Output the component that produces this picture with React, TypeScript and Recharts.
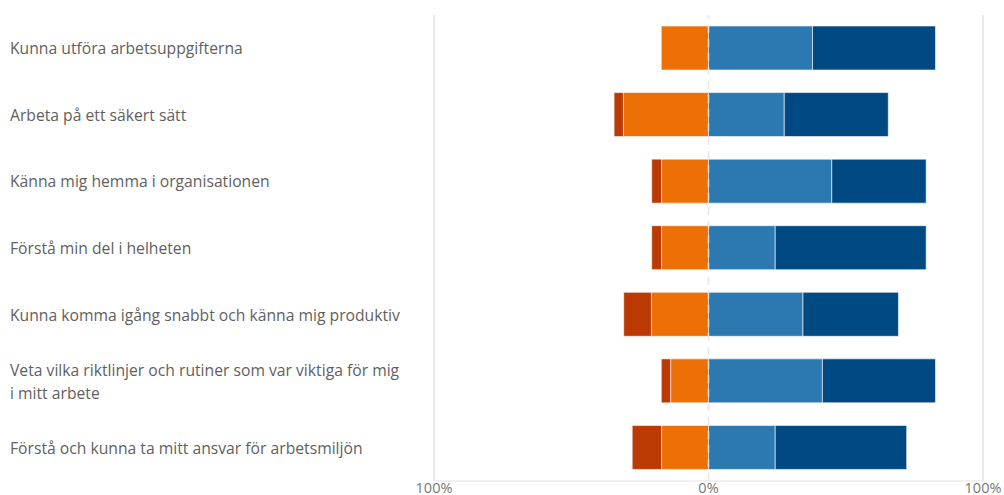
import React from "react";
import { BarChart, Bar, XAxis, YAxis, ReferenceLine } from "recharts";

const questions = [
  "Kunna utföra arbetsuppgifterna",
  "Arbeta på ett säkert sätt",
  "Känna mig hemma i organisationen",
  "Förstå min del i helheten",
  "Kunna komma igång snabbt och känna mig produktiv",
  "Veta vilka riktlinjer och rutiner som var viktiga för mig i mitt arbete",
  "Förstå och kunna ta mitt ansvar för arbetsmiljön",
];

// percent of answers per question, disagree sides shown to the left
const stronglyDisagree = [0, 3.4, 3.6, 3.6, 10.1, 3.4, 10.7];
const disagree = [17.2, 31.0, 17.1, 17.1, 20.8, 13.8, 17.1];
const agree = [37.9, 27.6, 44.9, 24.3, 34.4, 41.5, 24.3];
const stronglyAgree = [44.8, 37.9, 34.4, 55.0, 34.8, 41.2, 47.9];

const xTicks = [-100, 0, 100];

const data = questions.map((label, i) => ({
  label,
  disagree: -disagree[i],
  stronglyDisagree: -stronglyDisagree[i],
  agree: agree[i],
  stronglyAgree: stronglyAgree[i],
}));

function wrap(text: string, max: number) {
  const words = text.split(" ");
  const lines: string[] = [];
  let cur = "";
  for (const w of words) {
    const next = cur ? cur + " " + w : w;
    if (next.length > max && cur) {
      lines.push(cur);
      cur = w;
    } else cur = next;
  }
  if (cur) lines.push(cur);
  return lines;
}

function QuestionTick(props: any) {
  const { y, payload } = props;
  const lines = wrap(String(payload.value), 58);
  const lh = 23;
  const start = y - ((lines.length - 1) * lh) / 2;
  return (
    <text x={10} y={start} fill="#5f5f5f" fontSize={15.7} textAnchor="start" dominantBaseline="central">
      {lines.map((l, i) => (
        <tspan key={i} x={10} y={start + i * lh} dominantBaseline="central">
          {l}
        </tspan>
      ))}
    </text>
  );
}

function PctTick(props: any) {
  const { x, y, payload } = props;
  return (
    <text x={x} y={y + 10} fill="#777" fontSize={14.5} textAnchor="middle">
      {`${Math.abs(payload.value)}%`}
    </text>
  );
}

const edge = "rgba(255,255,255,0.6)";

export default function App() {
  return (
    <div style={{ position: "absolute", left: 0, top: 0, width: 1004, height: 495, background: "#fff", fontFamily: "'Open Sans', sans-serif" }}>
      <BarChart
        width={1004}
        height={495}
        data={data}
        layout="vertical"
        stackOffset="sign"
        margin={{ top: 15, right: 21, left: 0, bottom: 0 }}
      >
        <XAxis
          type="number"
          domain={[-100, 100]}
          ticks={xTicks}
          tick={<PctTick />}
          tickLine={false}
          tickSize={0}
          axisLine={{ stroke: "#e3e3e3" }}
          height={14}
          interval={0}
        />
        <YAxis
          type="category"
          dataKey="label"
          width={434}
          axisLine={false}
          tickLine={false}
          tick={<QuestionTick />}
          interval={0}
        />
        <ReferenceLine x={-100} stroke="#e3e3e3" strokeWidth={1.5} />
        <ReferenceLine x={100} stroke="#e3e3e3" strokeWidth={1.5} />
        <ReferenceLine x={0} stroke="#e6e6e6" strokeWidth={1.5} strokeDasharray="8 6" />
        <Bar dataKey="disagree" stackId="s" fill="#ec7006" stroke={edge} strokeWidth={1} barSize={44} isAnimationActive={false} />
        <Bar dataKey="stronglyDisagree" stackId="s" fill="#bb3a03" stroke={edge} strokeWidth={1} barSize={44} isAnimationActive={false} />
        <Bar dataKey="agree" stackId="s" fill="#2b79b0" stroke={edge} strokeWidth={1} barSize={44} isAnimationActive={false} />
        <Bar dataKey="stronglyAgree" stackId="s" fill="#014983" stroke={edge} strokeWidth={1} barSize={44} isAnimationActive={false} />
      </BarChart>
    </div>
  );
}
